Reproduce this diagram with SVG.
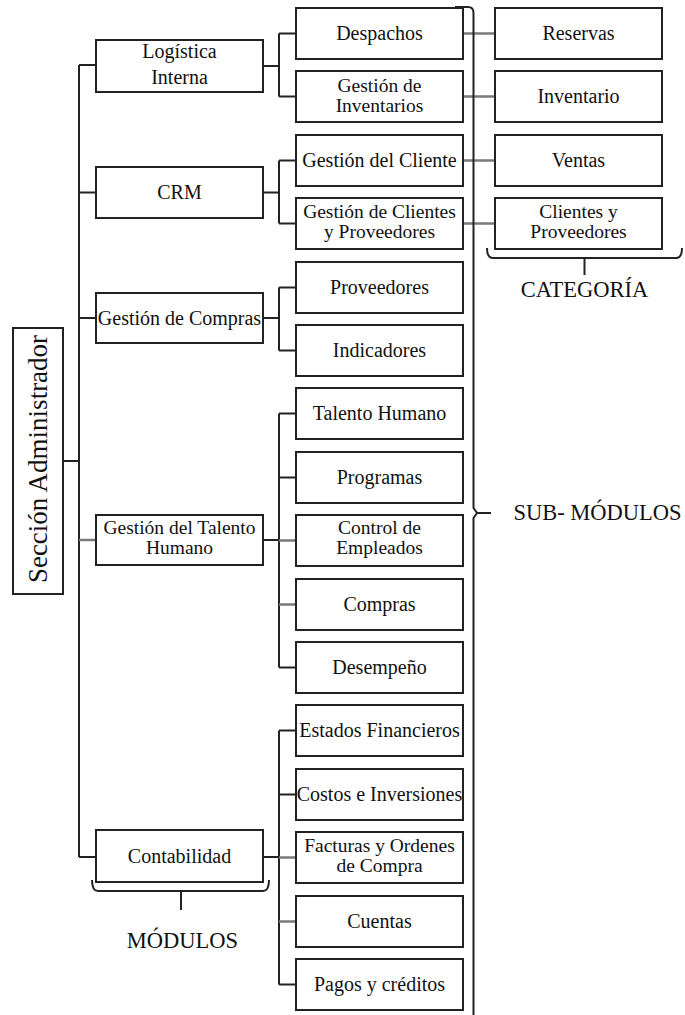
<svg xmlns="http://www.w3.org/2000/svg" width="685" height="1015" viewBox="0 0 685 1015">
<style>
.box{fill:#fff;stroke:#222;stroke-width:2}
.t{font-family:"Liberation Serif","Times New Roman",serif;font-size:20px;fill:#111;text-anchor:middle}
.t2{font-size:19.5px}
.big{font-family:"Liberation Serif","Times New Roman",serif;font-size:22.5px;fill:#111;text-anchor:middle}
.ln{fill:none;stroke:#222;stroke-width:2}
.gr{fill:none;stroke:#7a7a7a;stroke-width:2.5}
</style>
<rect width="685" height="1015" fill="#fff"/>
<g id="connectors">
<path class="ln" d="M63,461H79M79,65V857M79,65H96M79,192.5H96M79,318H96M79,857H96"/>
<path class="gr" d="M79,540H96"/>
<path class="ln" d="M263,66H279M279,33.5V96.5M279,33.5H296M279,96.5H296"/>
<path class="ln" d="M263,192.5H279M279,160.5V223.5M279,160.5H296M279,223.5H296"/>
<path class="ln" d="M263,318H279M279,287.5V350.5M279,287.5H296M279,350.5H296"/>
<path class="ln" d="M263,540H279M279,413.5V667.5M279,413.5H296M279,477.5H296M279,667.5H296"/>
<path class="gr" d="M279,540.5H296M279,604.5H296"/>
<path class="ln" d="M263,857H279M279,730.5V984.5M279,730.5H296M279,794.5H296M279,984.5H296"/>
<path class="gr" d="M279,857.5H296M279,921.5H296"/>
<path class="gr" d="M463,33.5H495M463,96.5H495M463,160.5H495M463,223.5H495"/>
</g>
<g id="braces">
<path class="ln" d="M455,7H468Q473.5,7 473.5,13V508L477,513L473.5,518V1015M477,513H491"/>
<path class="ln" d="M487,248Q487,258 493,258H676Q682,258 682,248M584.5,258V275"/>
<path class="ln" d="M92,880Q92,891 98,891H263Q269,891 269,880M181,891V910"/>
</g>
<g id="root"><rect class="box" x="13" y="328" width="50" height="266"/><text class="t" style="font-size:27px" transform="translate(46.5,459) rotate(-90)">Sección Administrador</text></g>
<g id="m-logistica"><rect class="box" x="96" y="40" width="167" height="52"/><text class="t" x="179.5" y="58">Logística</text><text class="t" x="179.5" y="84">Interna</text></g>
<g id="m-crm"><rect class="box" x="96" y="167" width="167" height="51"/><text class="t" x="179.5" y="199">CRM</text></g>
<g id="m-compras"><rect class="box" x="96" y="293" width="167" height="50"/><text class="t" x="179.5" y="325">Gestión de Compras</text></g>
<g id="m-talento"><rect class="box" x="96" y="515" width="167" height="50"/><text class="t t2" x="179.5" y="534">Gestión del Talento</text><text class="t t2" x="179.5" y="554">Humano</text></g>
<g id="m-contabilidad"><rect class="box" x="96" y="830" width="167" height="52"/><text class="t" x="179.5" y="862.5">Contabilidad</text></g>
<g id="s-despachos"><rect class="box" x="296" y="8" width="167" height="51"/><text class="t" x="379.5" y="40">Despachos</text></g>
<g id="s-inventarios"><rect class="box" x="296" y="71" width="167" height="51"/><text class="t t2" x="379.5" y="91.5">Gestión de</text><text class="t t2" x="379.5" y="111.5">Inventarios</text></g>
<g id="s-cliente"><rect class="box" x="296" y="135" width="167" height="51"/><text class="t" x="379.5" y="167">Gestión del Cliente</text></g>
<g id="s-clientesprov"><rect class="box" x="296" y="198" width="167" height="51"/><text class="t t2" x="379.5" y="218">Gestión de Clientes</text><text class="t t2" x="379.5" y="238">y Proveedores</text></g>
<g id="s-proveedores"><rect class="box" x="296" y="262" width="167" height="51"/><text class="t" x="379.5" y="294">Proveedores</text></g>
<g id="s-indicadores"><rect class="box" x="296" y="325" width="167" height="51"/><text class="t" x="379.5" y="357">Indicadores</text></g>
<g id="s-talentohumano"><rect class="box" x="296" y="388" width="167" height="51"/><text class="t" x="379.5" y="420">Talento Humano</text></g>
<g id="s-programas"><rect class="box" x="296" y="452" width="167" height="51"/><text class="t" x="379.5" y="484">Programas</text></g>
<g id="s-control"><rect class="box" x="296" y="515" width="167" height="51"/><text class="t t2" x="379.5" y="534">Control de</text><text class="t t2" x="379.5" y="554">Empleados</text></g>
<g id="s-compras"><rect class="box" x="296" y="579" width="167" height="51"/><text class="t" x="379.5" y="611">Compras</text></g>
<g id="s-desempeno"><rect class="box" x="296" y="642" width="167" height="51"/><text class="t" x="379.5" y="674">Desempeño</text></g>
<g id="s-estados"><rect class="box" x="296" y="705" width="167" height="51"/><text class="t" x="379.5" y="737">Estados Financieros</text></g>
<g id="s-costos"><rect class="box" x="296" y="769" width="167" height="51"/><text class="t" x="379.5" y="801">Costos e Inversiones</text></g>
<g id="s-facturas"><rect class="box" x="296" y="832" width="167" height="51"/><text class="t t2" x="379.5" y="852">Facturas y Ordenes</text><text class="t t2" x="379.5" y="872">de Compra</text></g>
<g id="s-cuentas"><rect class="box" x="296" y="896" width="167" height="51"/><text class="t" x="379.5" y="928">Cuentas</text></g>
<g id="s-pagos"><rect class="box" x="296" y="959" width="167" height="51"/><text class="t" x="379.5" y="991">Pagos y créditos</text></g>
<g id="c-reservas"><rect class="box" x="495" y="8" width="167" height="51"/><text class="t" x="578.5" y="40">Reservas</text></g>
<g id="c-inventario"><rect class="box" x="495" y="71" width="167" height="51"/><text class="t" x="578.5" y="103">Inventario</text></g>
<g id="c-ventas"><rect class="box" x="495" y="135" width="167" height="51"/><text class="t" x="578.5" y="167">Ventas</text></g>
<g id="c-clientesprov"><rect class="box" x="495" y="198" width="167" height="51"/><text class="t t2" x="578.5" y="218">Clientes y</text><text class="t t2" x="578.5" y="238">Proveedores</text></g>
<g id="labels">
<text class="big" x="597.5" y="520">SUB- MÓDULOS</text>
<text class="big" x="584.5" y="297">CATEGORÍA</text>
<text class="big" x="182.5" y="948">MÓDULOS</text>
</g>
</svg>
